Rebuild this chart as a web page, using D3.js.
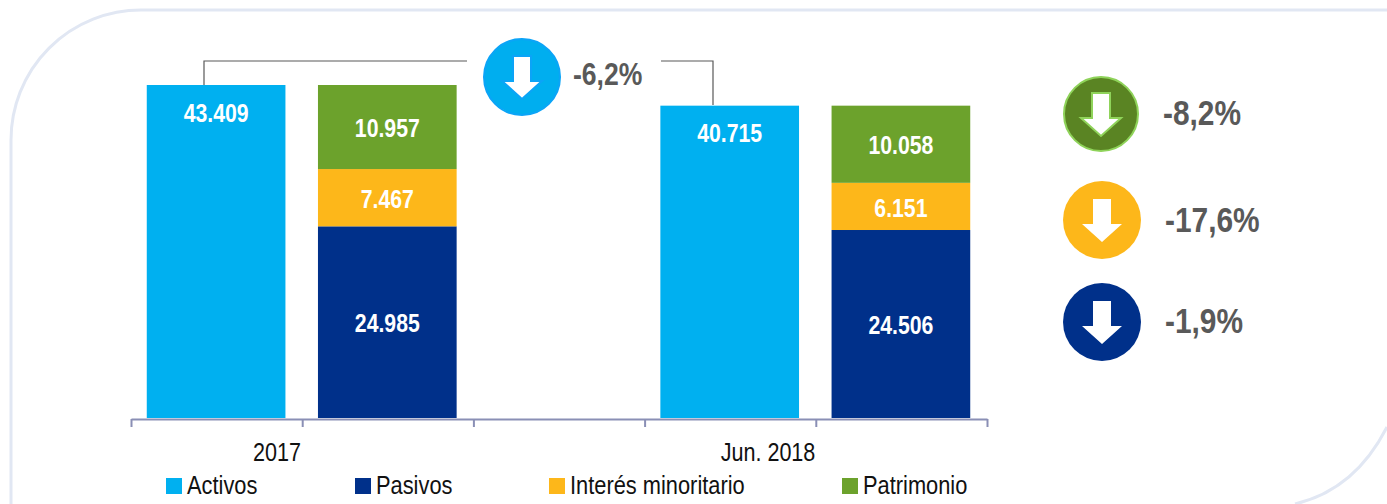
<!DOCTYPE html>
<html>
<head>
<meta charset="utf-8">
<script src="https://cdn.jsdelivr.net/npm/d3@7"></script>
<style>
  html, body { margin: 0; padding: 0; background: #fff; }
  text { font-family: "Liberation Sans", Arial, sans-serif; }
</style>
</head>
<body>
<svg id="chart" width="1387" height="504"></svg>
<script>
// chart data
var periods = ["2017", "Jun. 2018"];
var activos = [43409, 40715];
var pasivos = [24985, 24506];
var interes = [7467, 6151];
var patrimonio = [10957, 10058];
var seriesNames = ["Activos", "Pasivos", "Interés minoritario", "Patrimonio"];
var seriesColors = ["#00b0f0", "#00308a", "#fdb71a", "#6ca22c"];
var slots = ["a0", "p0", "gap", "a1", "p1"];
var changes = ["-6,2%", "-8,2%", "-17,6%", "-1,9%"];

var svg = d3.select("#chart");
var fmt = d3.formatLocale({decimal: ",", thousands: ".", grouping: [3], currency: ["", ""]}).format(",d");

// the original uses a narrow font, so squeeze the text sideways
function narrowText(x, y, str, size, squeeze) {
    return svg.append("text")
        .attr("transform", "translate(" + x + "," + y + ") scale(" + squeeze + ",1)")
        .attr("font-size", size)
        .text(str);
}

// frame: only top left and bottom right corners are rounded
var frame = d3.path();
frame.moveTo(11, 504);
frame.lineTo(11, 140);
frame.arcTo(11, 10, 141, 10, 130);
frame.lineTo(1387, 10);
frame.moveTo(1387, 427);
frame.quadraticCurveTo(1355, 490, 1295, 504);
svg.append("path")
    .attr("d", frame.toString())
    .attr("fill", "none")
    .attr("stroke", "#e1e7f3")
    .attr("stroke-width", 3);

// scales
var xScale = d3.scaleBand().domain(slots).range([130.5, 986.5])
    .paddingInner(0.19).paddingOuter(0.095);
var xEdges = d3.scaleLinear().domain([0, slots.length]).range([131, 987]);
var yScale = d3.scaleLinear().domain([0, 43409]).range([418, 85]);

function drawSegment(slot, start, value, color) {
    svg.append("rect")
        .attr("x", xScale(slot))
        .attr("y", yScale(start + value))
        .attr("width", xScale.bandwidth())
        .attr("height", yScale(start) - yScale(start + value))
        .attr("fill", color);
}

function drawValue(slot, y, value) {
    narrowText(xScale(slot) + xScale.bandwidth() / 2, y, fmt(value), 25, 0.85)
        .attr("text-anchor", "middle")
        .attr("dominant-baseline", "central")
        .attr("font-weight", "bold")
        .attr("fill", "#fff");
}

periods.forEach(function(p, i) {
    var a = "a" + i, s = "p" + i;
    drawSegment(a, 0, activos[i], seriesColors[0]);
    drawValue(a, yScale(activos[i]) + 28, activos[i]);

    drawSegment(s, 0, pasivos[i], seriesColors[1]);
    drawSegment(s, pasivos[i], interes[i], seriesColors[2]);
    drawSegment(s, pasivos[i] + interes[i], patrimonio[i], seriesColors[3]);
    drawValue(s, yScale(pasivos[i] / 2) + 1.5, pasivos[i]);
    drawValue(s, yScale(pasivos[i] + interes[i] / 2) + 2, interes[i]);
    drawValue(s, yScale(pasivos[i] + interes[i] + patrimonio[i] / 2) + 1, patrimonio[i]);
});

// axis with ticks at slot edges
var axis = svg.append("g")
    .attr("transform", "translate(0,419)")
    .call(d3.axisBottom(xEdges).tickValues(d3.range(slots.length + 1)).tickSize(8).tickSizeOuter(0).tickFormat(""));
axis.selectAll("path, line").attr("stroke", "#8a8fb5").attr("stroke-width", 2);

var periodX = [277, 768];
periods.forEach(function(p, i) {
    narrowText(periodX[i], 461, p, 26, 0.83)
        .attr("text-anchor", "middle")
        .attr("fill", "#111");
});

// legend
var legendX = [166, 355, 549, 842];
seriesNames.forEach(function(n, i) {
    svg.append("rect")
        .attr("x", legendX[i]).attr("y", 478)
        .attr("width", 16).attr("height", 16)
        .attr("fill", seriesColors[i]);
    narrowText(legendX[i] + 21, 494, n, 26, 0.84)
        .attr("fill", "#111");
});

// connector between the two Activos bars
var line = d3.line();
var connector = [
    [[204, 85], [204, 61], [467, 61]],
    [[661, 61], [713, 61], [713, 105]]
];
connector.forEach(function(pts) {
    svg.append("path")
        .attr("d", line(pts))
        .attr("fill", "none")
        .attr("stroke", "#595959")
        .attr("stroke-width", 1.2);
});

// change badges
var badges = [
    {cx: 522, cy: 77, r: 38, fill: "#00aeef", stroke: "#0ba4f7", arrow: "#fff", arrowStroke: "#0ba4f7", tx: 573, ty: 74, size: 32},
    {cx: 1101, cy: 114, r: 37, fill: "#5a8423", stroke: "#8fd35a", arrow: "#fff", arrowStroke: "#8fd35a", tx: 1163, ty: 112, size: 36},
    {cx: 1102, cy: 220, r: 39, fill: "#fdb71a", stroke: "none", arrow: "#fff", arrowStroke: "none", tx: 1165, ty: 219, size: 36},
    {cx: 1102, cy: 322, r: 39, fill: "#00308a", stroke: "none", arrow: "#fff", arrowStroke: "none", tx: 1165, ty: 320, size: 36}
];
var arrowShape = "M-9,-21H9V4H20L0,22L-20,4H-9Z";
badges.forEach(function(b, i) {
    svg.append("circle")
        .attr("cx", b.cx).attr("cy", b.cy).attr("r", b.r)
        .attr("fill", b.fill)
        .attr("stroke", b.stroke)
        .attr("stroke-width", 2);
    svg.append("path")
        .attr("transform", "translate(" + b.cx + "," + b.cy + ")")
        .attr("d", arrowShape)
        .attr("fill", b.arrow)
        .attr("stroke", b.arrowStroke)
        .attr("stroke-width", 2);
    narrowText(b.tx, b.ty, changes[i], b.size, 0.83)
        .attr("dominant-baseline", "central")
        .attr("font-weight", "bold")
        .attr("fill", "#595959");
});
</script>
</body>
</html>
